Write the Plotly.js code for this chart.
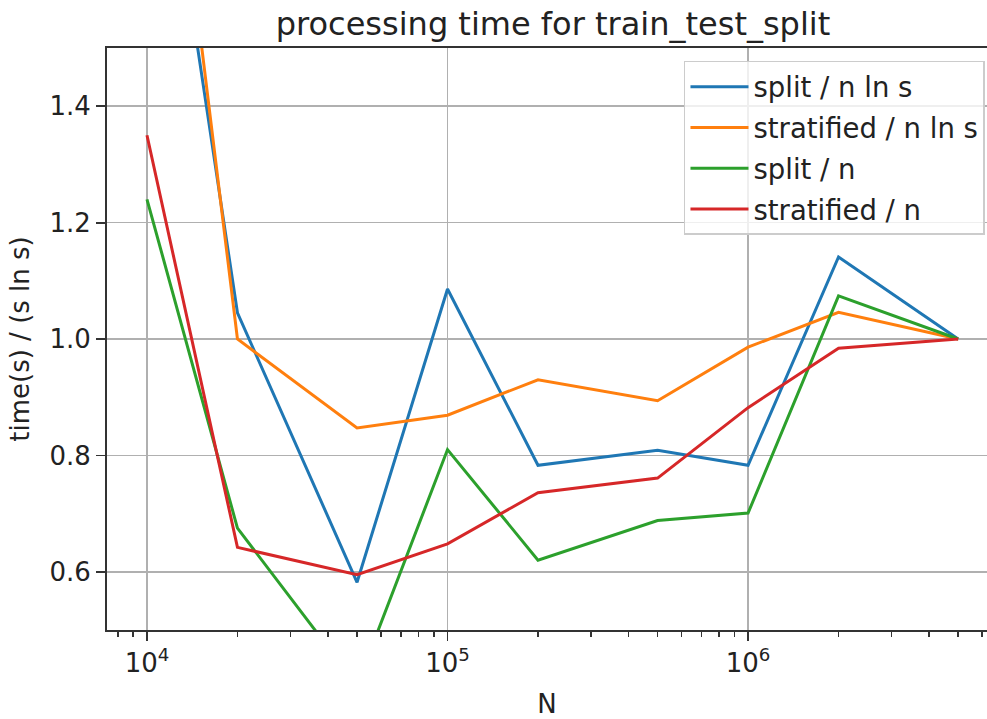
<!DOCTYPE html>
<html>
<head>
<meta charset="utf-8">
<script src="https://cdn.plot.ly/plotly-3.0.1.min.js"></script>
<style>html,body{margin:0;padding:0;background:#fff}#chart{width:987px;height:719px}</style>
</head>
<body>
<div id="chart"></div>
<script>
const N = [1e4, 2e4, 5e4, 1e5, 2e5, 5e5, 1e6, 2e6, 5e6];
const splitNlnS = [2.08, 1.045, 0.582, 1.086, 0.783, 0.809, 0.783, 1.141, 1.0];
const stratNlnS = [2.27, 1.0, 0.847, 0.869, 0.930, 0.894, 0.986, 1.046, 1.0];
const splitN = [1.24, 0.675, 0.405, 0.81, 0.62, 0.688, 0.701, 1.074, 1.0];
const stratN = [1.35, 0.642, 0.595, 0.648, 0.736, 0.761, 0.882, 0.984, 1.0];
const seriesNames = ['split / n ln s', 'stratified / n ln s', 'split / n', 'stratified / n'];
const xTickVals = [1e4, 1e5, 1e6];
const xTickText = ['10<sup>4</sup>', '10<sup>5</sup>', '10<sup>6</sup>'];
const yTickVals = [0.6, 0.8, 1.0, 1.2, 1.4];
const yTickText = ['0.6', '0.8', '1.0', '1.2', '1.4'];

const colors = ['#1f77b4', '#ff7f0e', '#2ca02c', '#d62728'];
const ys = [splitNlnS, stratNlnS, splitN, stratN];
const font = 'DejaVu Sans, sans-serif';

const traces = ys.map((y, i) => ({
  x: N, y: y, type: 'scatter', mode: 'lines', name: seriesNames[i],
  legendgroup: 'g' + i,
  line: {color: colors[i], width: 3}
}));

const layout = {
  width: 987, height: 719,
  paper_bgcolor: '#fff', plot_bgcolor: '#fff',
  margin: {l: 107, r: 0, t: 48, b: 89},
  font: {family: font, size: 26, color: '#222'},
  title: {text: 'processing time for train_test_split', font: {family: font, size: 32, color: '#222'},
          xref: 'container', x: 553/987, xanchor: 'center', yref: 'container', y: 1 - 24/719, yanchor: 'middle'},
  showlegend: true,
  legend: {x: 0.9977, xanchor: 'right', y: 0.978, yanchor: 'top',
           bgcolor: 'rgba(255,255,255,0.8)', bordercolor: '#cccccc', borderwidth: 1.5,
           font: {family: font, size: 27.5, color: '#222'}, tracegroupgap: 2, itemwidth: 58},
  xaxis: {
    type: 'log', range: [3.867, 6.795],
    tickvals: xTickVals, ticktext: xTickText,
    ticks: 'outside', ticklen: 9, tickwidth: 1.8, tickcolor: '#333',
    showgrid: true, gridcolor: '#b0b0b0', gridwidth: 1.6,
    showline: true, linecolor: '#333', linewidth: 2, mirror: true,
    zeroline: false,
    minor: {dtick: 'D1', ticks: 'outside', ticklen: 5, tickwidth: 1.5, tickcolor: '#333', showgrid: false},
    title: {text: 'N', font: {family: font, size: 26, color: '#222'}, standoff: 20},
    tickfont: {family: font, size: 26, color: '#222'}
  },
  yaxis: {
    range: [0.5, 1.5],
    tickvals: yTickVals, ticktext: yTickText,
    ticks: 'outside', ticklen: 9, tickwidth: 1.8, tickcolor: '#333',
    showgrid: true, gridcolor: '#b0b0b0', gridwidth: 1.6,
    showline: true, linecolor: '#333', linewidth: 2, mirror: false,
    zeroline: false,
    title: {text: 'time(s) / (s ln s)', font: {family: font, size: 26, color: '#222'}, standoff: 12},
    tickfont: {family: font, size: 26, color: '#222'}
  }
};

Plotly.newPlot('chart', traces, layout, {displayModeBar: false, staticPlot: true});
</script>
</body>
</html>
